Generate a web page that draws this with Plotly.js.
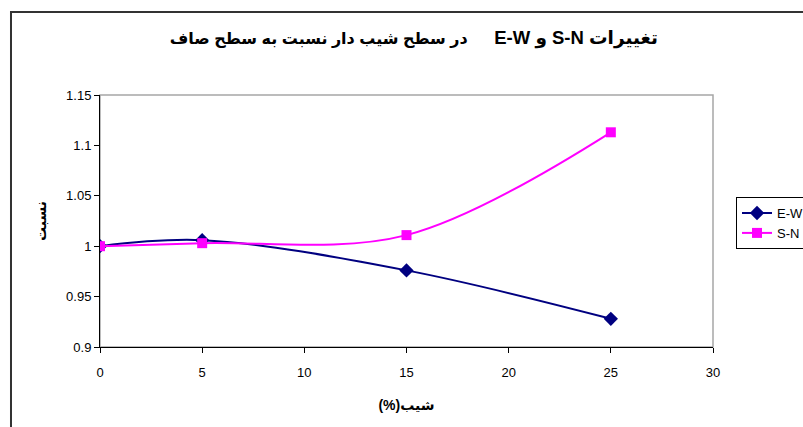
<!DOCTYPE html>
<html>
<head>
<meta charset="utf-8">
<script src="https://cdn.plot.ly/plotly-3.0.1.min.js"></script>
<style>
  html, body { margin: 0; padding: 0; background: #fff; }
  #chart { width: 803px; height: 427px; }
</style>
</head>
<body>
<div id="chart"></div>
<script>
// Slope (%) on the x axis
const slope = [0, 5, 15, 25];
// Ratio of sloped surface to flat surface
const ewRatio = [1.000, 1.006, 0.976, 0.928];
const snRatio = [1.000, 1.003, 1.011, 1.113];
const seriesNames = ['E-W', 'S-N'];

const NB = '\u00A0';
// Right-to-left pieces arranged for a left-to-right text run
const titleLeft = 'در سطح شیب دار نسبت به سطح صاف';
const titleRight = 'E-W و S-N تغییرات';
const titleText = '<span style="font-size:16px">' + titleLeft + NB.repeat(6) + '</span>' +
                  '<span style="font-size:18.5px">' + titleRight + '</span>';
const xTitle = '(%)شیب';
const yTitle = 'نسبت';

const font = "'Liberation Sans', Arial, 'DejaVu Sans', sans-serif";

const traces = [
  {
    x: slope, y: ewRatio, name: seriesNames[0], type: 'scatter', mode: 'lines+markers',
    line: { color: '#000080', width: 2, shape: 'spline', smoothing: 1 },
    marker: { symbol: 'diamond', size: 11, color: '#000080' }
  },
  {
    x: slope, y: snRatio, name: seriesNames[1], type: 'scatter', mode: 'lines+markers',
    line: { color: '#FF00FF', width: 2, shape: 'spline', smoothing: 1 },
    marker: { symbol: 'square', size: 10, color: '#FF00FF' }
  }
];

const layout = {
  width: 803, height: 427,
  margin: { l: 100, r: 90, t: 95, b: 80, autoexpand: false },
  paper_bgcolor: '#ffffff',
  plot_bgcolor: '#ffffff',
  font: { family: font, size: 12, color: '#000' },
  title: {
    text: titleText,
    font: { family: font, size: 17, color: '#000', weight: 'bold' },
    x: 0.512, xanchor: 'center', xref: 'paper',
    y: 0.91, yanchor: 'middle'
  },
  xaxis: {
    range: [0, 30], dtick: 5, tick0: 0,
    showgrid: false, zeroline: false,
    showline: true, linecolor: '#000', linewidth: 1,
    ticks: 'outside', ticklen: 5, tickcolor: '#000',
    ticklabelstandoff: 8,
    tickfont: { family: font, size: 13, color: '#000' },
    title: { text: xTitle, font: { family: font, size: 14, color: '#000', weight: 'bold' }, standoff: 21 }
  },
  yaxis: {
    range: [0.9, 1.15], dtick: 0.05, tick0: 0.9,
    tickformat: '.3~g',
    showgrid: false, zeroline: false,
    showline: true, linecolor: '#000', linewidth: 1,
    ticks: 'outside', ticklen: 5, tickcolor: '#000',
    tickfont: { family: font, size: 13, color: '#000' },
    title: { text: yTitle, font: { family: font, size: 14, color: '#000', weight: 'bold' }, standoff: 16 }
  },
  legend: {
    x: 1.0375, xanchor: 'left', y: 0.595, yanchor: 'top',
    bordercolor: '#000', borderwidth: 1, bgcolor: '#fff',
    font: { family: font, size: 13, color: '#000' },
    tracegroupgap: 0
  },
  shapes: [
    // plot area frame (top and right in gray)
    { type: 'rect', xref: 'paper', yref: 'paper', x0: 0, x1: 1, y0: 0, y1: 1,
      line: { color: '#a6a6a6', width: 1.5 }, fillcolor: 'rgba(0,0,0,0)', layer: 'below' },
    // chart outer border
    { type: 'rect', xref: 'paper', yref: 'paper', x0: -0.1452, x1: 1.25, y0: -0.5, y1: 1.329,
      line: { color: '#333333', width: 2 }, fillcolor: 'rgba(0,0,0,0)', layer: 'below' }
  ],
  showlegend: true
};

Plotly.newPlot('chart', traces, layout, { displayModeBar: false, staticPlot: true });
</script>
</body>
</html>
